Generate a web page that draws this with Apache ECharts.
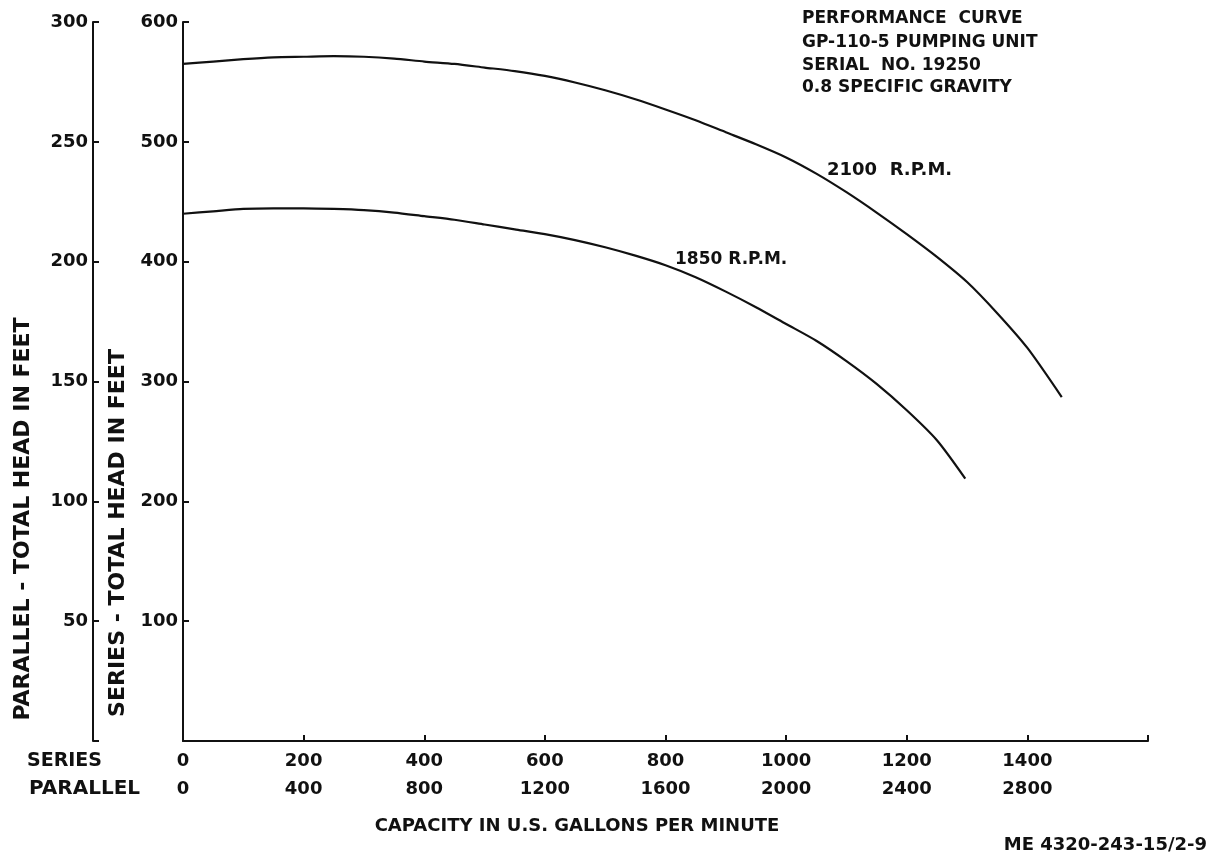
<!DOCTYPE html>
<html>
<head>
<meta charset="utf-8">
<script src="https://cdn.jsdelivr.net/npm/echarts@6/dist/echarts.min.js"></script>
<style>
html,body{margin:0;padding:0;background:#fff;}
#chart{width:1209px;height:856px;}
</style>
</head>
<body>
<div id="chart"></div>
<script>
// ---- data ----
const cap2100 = [0, 50, 100, 150, 200, 250, 300, 350, 400, 450, 500, 550, 600, 650, 700, 750, 800, 850, 900, 950, 1000, 1050, 1100, 1150, 1200, 1250, 1300, 1350, 1400, 1457];
const head2100 = [565, 567, 569, 570.5, 571, 571.5, 571, 569.5, 567, 565, 562, 559, 555, 549.5, 543, 535.5, 527, 518, 508, 498, 487, 473.5, 458, 441, 423, 404, 383, 357, 328, 287];
const cap1850 = [0, 50, 100, 150, 200, 250, 300, 350, 400, 450, 500, 550, 600, 650, 700, 750, 800, 850, 900, 950, 1000, 1050, 1100, 1150, 1200, 1250, 1297];
const head1850 = [440, 442, 444, 444.5, 444.5, 444, 443, 441, 438, 435, 431, 427, 423, 418, 412, 405, 397, 387, 375, 362, 348, 334, 317, 298, 276, 251, 219];
const seriesCapTicks = [0, 200, 400, 600, 800, 1000, 1200, 1400];
const parallelCapTicks = [0, 400, 800, 1200, 1600, 2000, 2400, 2800];
const seriesHeadTicks = [100, 200, 300, 400, 500, 600];
const parallelHeadTicks = [50, 100, 150, 200, 250, 300];
const titleLines = ['PERFORMANCE  CURVE', 'GP-110-5 PUMPING UNIT', 'SERIAL  NO. 19250', '0.8 SPECIFIC GRAVITY'];
const curveNames = ['2100  R.P.M.', '1850 R.P.M.'];

const FONT = 'DejaVu Sans';
const INK = '#111';
const pair = (xs, ys) => xs.map((x, i) => [x, ys[i]]);
const f = (size) => 'bold ' + size + 'px "' + FONT + '"';

const chart = echarts.init(document.getElementById('chart'), null, {renderer: 'canvas'});

const lblStyle = {color: INK, fontFamily: FONT, fontSize: 18, fontWeight: 'bold'};

const option = {
  backgroundColor: '#fff',
  animation: false,
  grid: {left: 183, top: 22, width: 965, height: 719, containLabel: false},
  xAxis: [
    {
      type: 'value', min: 0, max: 1600, interval: 200, position: 'bottom',
      axisLine: {show: true, onZero: false, lineStyle: {color: INK, width: 2}},
      axisTick: {show: true, inside: true, length: 6, lineStyle: {color: INK, width: 2}},
      splitLine: {show: false},
      axisLabel: Object.assign({margin: 11, formatter: v => seriesCapTicks.includes(v) ? String(v) : ''}, lblStyle)
    },
    {
      type: 'value', min: 0, max: 3200, interval: 400, position: 'bottom', offset: 28,
      axisLine: {show: false}, axisTick: {show: false}, splitLine: {show: false},
      axisLabel: Object.assign({margin: 11, formatter: v => parallelCapTicks.includes(v) ? String(v) : ''}, lblStyle)
    }
  ],
  yAxis: [
    {
      type: 'value', min: 0, max: 600, interval: 100, position: 'left', offset: 0,
      axisLine: {show: true, onZero: false, lineStyle: {color: INK, width: 2}},
      axisTick: {show: true, inside: true, length: 6, lineStyle: {color: INK, width: 2}},
      splitLine: {show: false},
      axisLabel: Object.assign({margin: 5, formatter: v => seriesHeadTicks.includes(v) ? String(v) : ''}, lblStyle)
    },
    {
      type: 'value', min: 0, max: 300, interval: 50, position: 'left', offset: 90,
      axisLine: {show: true, onZero: false, lineStyle: {color: INK, width: 2}},
      axisTick: {show: true, inside: true, length: 6, lineStyle: {color: INK, width: 2}},
      splitLine: {show: false},
      axisLabel: Object.assign({margin: 5, formatter: v => parallelHeadTicks.includes(v) ? String(v) : ''}, lblStyle)
    }
  ],
  series: [
    {
      name: curveNames[0], type: 'line', xAxisIndex: 0, yAxisIndex: 0,
      data: pair(cap2100, head2100), smooth: 0.25, showSymbol: false,
      lineStyle: {color: INK, width: 2.2}
    },
    {
      name: curveNames[1], type: 'line', xAxisIndex: 0, yAxisIndex: 0,
      data: pair(cap1850, head1850), smooth: 0.25, showSymbol: false,
      lineStyle: {color: INK, width: 2.2}
    }
  ],
  graphic: [
    ...titleLines.map((t, i) => ({
      type: 'text', x: 802, y: [19, 43, 66, 88][i],
      style: {text: t, fill: INK, font: f(17), verticalAlign: 'middle'}
    })),
    {type: 'text', x: 827, y: 170, style: {text: curveNames[0], fill: INK, font: f(18), verticalAlign: 'middle'}},
    {type: 'text', x: 675, y: 260, style: {text: curveNames[1], fill: INK, font: f(17), verticalAlign: 'middle'}},
    {type: 'text', x: 27, y: 761, style: {text: 'SERIES', fill: INK, font: f(19), verticalAlign: 'middle'}},
    {type: 'text', x: 29, y: 789, style: {text: 'PARALLEL', fill: INK, font: f(20), verticalAlign: 'middle'}},
    {type: 'text', x: 577, y: 826, style: {text: 'CAPACITY IN U.S. GALLONS PER MINUTE', fill: INK, font: f(18), align: 'center', verticalAlign: 'middle'}},
    {type: 'text', x: 1207, y: 845, style: {text: 'ME 4320-243-15/2-9', fill: INK, font: f(18), align: 'right', verticalAlign: 'middle'}},
    {type: 'text', x: 23, y: 519, rotation: Math.PI / 2, style: {text: 'PARALLEL - TOTAL HEAD IN FEET', fill: INK, font: f(22), align: 'center', verticalAlign: 'middle'}},
    {type: 'text', x: 118, y: 533, rotation: Math.PI / 2, style: {text: 'SERIES - TOTAL HEAD IN FEET', fill: INK, font: f(22), align: 'center', verticalAlign: 'middle'}}
  ]
};
chart.setOption(option);
</script>
</body>
</html>
